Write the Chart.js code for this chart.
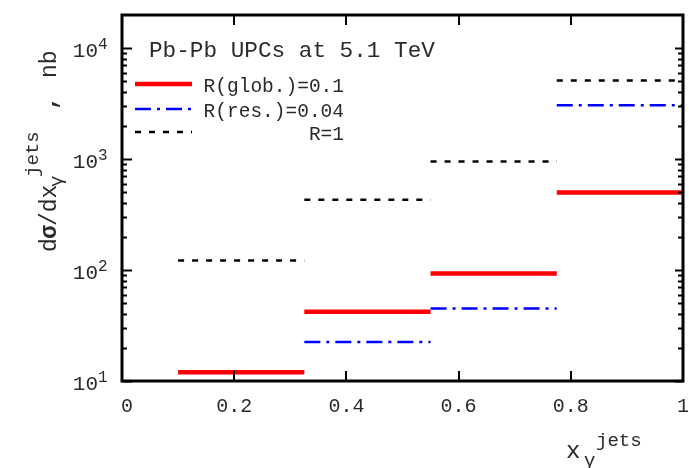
<!DOCTYPE html>
<html>
<head>
<meta charset="utf-8">
<script src="https://cdn.jsdelivr.net/npm/chart.js@4"></script>
<style>
body { margin: 0; background: #fff; }
canvas { display: block; }
</style>
</head>
<body>
<canvas id="chart-xgamma" width="689" height="468"></canvas>
<script>
// bin edges in x_gamma^jets and cross sections (nb) per bin
var binEdges = [0.1, 0.325, 0.55, 0.775, 1.0];
var globValues = [12, 42, 93, 500];
var resValues = [null, 22.5, 45, 3050];
var fullValues = [122, 430, 950, 5100];
var xTicks = [0, 0.2, 0.4, 0.6, 0.8, 1];
var yTicks = [10, 100, 1000, 10000];

var FONT = "'Liberation Mono', 'DejaVu Sans Mono', monospace";

// horizontal step per bin, broken between bins
function steps(values) {
  var pts = [];
  values.forEach(function (v, i) {
    if (v == null) return;
    pts.push({ x: binEdges[i], y: v });
    pts.push({ x: binEdges[i + 1], y: v });
    pts.push({ x: binEdges[i + 1], y: null });
  });
  return pts;
}

var framePlugin = {
  id: "frame",
  afterDraw: function (chart) {
    var ctx = chart.ctx;
    var a = chart.chartArea;
    var xs = chart.scales.x;
    var ys = chart.scales.y;
    ctx.save();

    // ticks
    ctx.strokeStyle = "#000";
    ctx.lineWidth = 2;
    ctx.beginPath();
    for (var k = 1; k <= 4; k++) {
      for (var m = 1; m <= 9; m++) {
        var v = m * Math.pow(10, k);
        if (v > ys.max) continue;
        var py = Math.round(ys.getPixelForValue(v)) + 0.5;
        var len = m === 1 ? 10 : 5;
        ctx.moveTo(a.left, py); ctx.lineTo(a.left + len, py);
        ctx.moveTo(a.right, py); ctx.lineTo(a.right - (m === 1 ? 8 : 5), py);
      }
    }
    xTicks.forEach(function (t) {
      if (t === 0 || t === 1) return;
      var px = Math.round(xs.getPixelForValue(t));
      ctx.moveTo(px, a.bottom); ctx.lineTo(px, a.bottom - 10);
      ctx.moveTo(px, a.top); ctx.lineTo(px, a.top + 10);
    });
    ctx.stroke();

    // frame
    ctx.lineWidth = 3;
    ctx.strokeRect(a.left, a.top, a.right - a.left, a.bottom - a.top);

    ctx.fillStyle = "#2a2a2a";
    ctx.textBaseline = "alphabetic";

    // x tick labels
    ctx.font = "20px " + FONT;
    ctx.textAlign = "center";
    xTicks.forEach(function (t) {
      ctx.fillText(String(t), xs.getPixelForValue(t) + (t === 0 ? 5 : 0), a.bottom + 31);
    });

    // y tick labels 10^n
    yTicks.forEach(function (v) {
      var py = ys.getPixelForValue(v);
      ctx.textAlign = "right";
      ctx.font = "21px " + FONT;
      ctx.fillText("10", 98, py + 9);
      ctx.textAlign = "left";
      ctx.font = "16px " + FONT;
      ctx.fillText(String(Math.round(Math.log10(v))), 98, py + 1);
    });

    // x axis title
    ctx.textAlign = "left";
    ctx.font = "24px " + FONT;
    ctx.fillText("x", 566, 458);
    ctx.font = "19px " + FONT;
    ctx.fillText("\u03b3", 584, 466);
    ctx.fillText("jets", 596, 446);

    // y axis title
    ctx.save();
    ctx.translate(56, 252);
    ctx.rotate(-Math.PI / 2);
    ctx.font = "23px " + FONT;
    ctx.fillText("d", 0, 0);
    ctx.font = "bold 23px " + FONT;
    ctx.fillText("\u03c3", 13, 0);
    ctx.font = "23px " + FONT;
    ctx.fillText("/dx", 26, 0);
    ctx.font = "19px " + FONT;
    ctx.fillText("\u03b3", 65, 6);
    ctx.fillText("jets", 75, -18);
    ctx.font = "bold 23px " + FONT;
    ctx.fillText(",", 142, 0);
    ctx.font = "23px " + FONT;
    ctx.fillText("nb", 174, 0);
    ctx.restore();

    // header text
    ctx.font = "22.7px " + FONT;
    ctx.fillText("Pb-Pb UPCs at 5.1 TeV", 149, 57);

    // legend
    var rows = [84, 109, 132];
    chart.data.datasets.forEach(function (ds, i) {
      ctx.save();
      ctx.strokeStyle = ds.borderColor;
      ctx.lineWidth = ds.borderWidth;
      ctx.setLineDash(ds.borderDash || []);
      ctx.beginPath();
      ctx.moveTo(135, rows[i]);
      ctx.lineTo(192, rows[i]);
      ctx.stroke();
      ctx.restore();
      ctx.textAlign = "right";
      ctx.font = "19.5px " + FONT;
      ctx.fillText(ds.label, 344, rows[i] + 8);
    });

    ctx.restore();
  }
};

new Chart(document.getElementById("chart-xgamma").getContext("2d"), {
  type: "line",
  data: {
    datasets: [{
      label: "R(glob.)=0.1",
      data: steps(globValues),
      borderColor: "#ff0000",
      borderWidth: 4.5,
      pointRadius: 0,
      spanGaps: false
    }, {
      label: "R(res.)=0.04",
      data: steps(resValues),
      borderColor: "#0000ff",
      borderWidth: 2.5,
      borderDash: [16, 6, 3, 6],
      pointRadius: 0,
      spanGaps: false
    }, {
      label: "R=1",
      data: steps(fullValues),
      borderColor: "#000000",
      borderWidth: 2.5,
      borderDash: [6, 8],
      pointRadius: 0,
      spanGaps: false
    }]
  },
  options: {
    responsive: false,
    animation: false,
    layout: {
      padding: { top: 15, right: 6, left: 0, bottom: 0 }
    },
    plugins: {
      legend: { display: false },
      tooltip: { enabled: false }
    },
    scales: {
      x: {
        type: "linear",
        min: 0,
        max: 1,
        grid: { display: false },
        border: { display: false },
        ticks: { display: false },
        afterFit: function (scale) { scale.height = 87; }
      },
      y: {
        type: "logarithmic",
        min: 10,
        max: 19800,
        grid: { display: false },
        border: { display: false },
        ticks: { display: false },
        afterFit: function (scale) { scale.width = 122; }
      }
    }
  },
  plugins: [framePlugin]
});
</script>
</body>
</html>
